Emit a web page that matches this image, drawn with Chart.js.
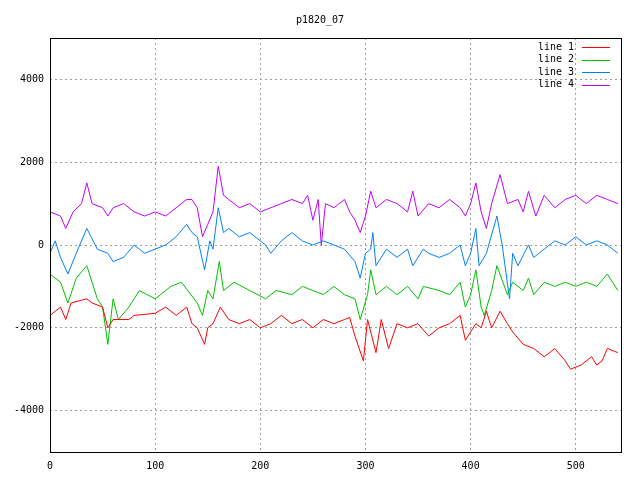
<!DOCTYPE html>
<html><head><meta charset="utf-8">
<script src="https://cdn.jsdelivr.net/npm/chart.js@4"></script>
<style>html,body{margin:0;padding:0;background:#fff}</style>
</head><body>
<canvas id="c" width="640" height="480" style="width:640px;height:480px"></canvas>
<script>
const seriesNames = ["line 1","line 2","line 3","line 4"];
const seriesColors = ["#ff0000","#00c000","#0080ff","#c000ff"];
const x1 = [0,10,15,20,35,40,50,55,60,75,80,100,110,120,130,135,140,147,150,155,162,170,180,190,200,210,220,230,240,250,260,270,280,285,290,298,302,310,315,322,330,340,350,360,370,380,390,395,400,405,410,415,420,428,435,440,450,460,470,480,490,495,505,515,520,525,530,540];
const y1 = [-1700,-1500,-1800,-1400,-1300,-1400,-1500,-2000,-1800,-1800,-1700,-1650,-1500,-1700,-1500,-1900,-2000,-2400,-2000,-1900,-1500,-1800,-1900,-1800,-2000,-1900,-1700,-1900,-1800,-2000,-1800,-1900,-1800,-1750,-2200,-2800,-1800,-2600,-1800,-2500,-1900,-2000,-1900,-2200,-2000,-1900,-1700,-2300,-2100,-1900,-2000,-1600,-2000,-1600,-1900,-2100,-2400,-2500,-2700,-2500,-2800,-3000,-2900,-2700,-2900,-2800,-2500,-2600];
const x2 = [0,10,17,25,35,45,50,55,60,65,75,85,100,115,125,140,145,150,155,161,165,175,190,205,215,230,240,250,260,270,280,290,295,302,305,310,320,330,340,350,355,370,380,390,395,400,405,410,413,420,425,435,440,450,455,460,470,480,490,500,510,520,530,540];
const y2 = [-700,-900,-1400,-800,-500,-1300,-1500,-2400,-1300,-1800,-1500,-1100,-1300,-1000,-900,-1400,-1700,-1100,-1300,-400,-1100,-900,-1100,-1300,-1100,-1200,-1000,-1100,-1200,-1000,-1200,-1300,-1800,-1200,-600,-1200,-1000,-1200,-1000,-1300,-1000,-1100,-1200,-900,-1500,-1200,-600,-1500,-1700,-1100,-500,-1200,-900,-1100,-800,-1200,-900,-1000,-900,-1000,-900,-1000,-700,-1100];
const x3 = [0,5,10,17,25,35,45,55,60,70,80,90,100,110,120,130,135,140,147,152,155,160,165,170,180,190,200,205,210,220,230,240,250,260,270,280,290,295,300,305,307,310,320,330,340,345,355,360,370,380,390,395,400,405,408,415,425,430,437,440,445,455,460,470,480,490,500,510,520,530,540];
const y3 = [-200,100,-300,-700,-200,400,-100,-200,-400,-300,0,-200,-100,0,200,500,300,200,-600,100,-100,900,300,400,200,300,100,0,-200,100,300,100,0,100,0,-100,-400,-800,-200,-100,300,-500,-100,-300,-100,-500,-100,-200,-300,-200,0,-500,-200,400,-500,-200,700,0,-1300,-200,-500,0,-300,-100,100,0,200,0,100,0,-200];
const x4 = [0,10,15,22,30,35,40,50,55,60,70,80,90,100,110,120,130,135,140,145,150,155,160,165,170,180,190,200,210,220,230,240,245,250,255,258,262,270,280,285,290,295,300,305,310,320,330,340,345,350,360,370,380,390,395,400,405,410,415,420,428,435,445,450,455,462,470,480,490,500,510,520,530,540];
const y4 = [800,700,400,800,1000,1500,1000,900,700,900,1000,800,700,800,700,900,1100,1100,900,200,500,800,1900,1200,1100,900,1000,800,900,1000,1100,1000,1200,600,1100,0,1000,900,1100,800,600,300,700,1300,900,1100,1000,800,1300,700,1000,900,1100,900,700,1000,1500,800,400,1000,1700,1000,1100,800,1300,700,1200,900,1100,1200,1000,1200,1100,1000];
const xTicks = [0,100,200,300,400,500];
const yTicks = [-4000,-2000,0,2000,4000];
const titleText = "p1820_07";

const xs=[x1,x2,x3,x4], ys=[y1,y2,y3,y4];
const datasets = seriesNames.map((n,i)=>({label:n,data:xs[i].map((x,j)=>({x:x,y:ys[i][j]})),borderColor:seriesColors[i],borderWidth:1,pointRadius:0,tension:0,fill:false}));
const FONT='10px "DejaVu Sans Mono", monospace';
const deco={id:'deco',afterDraw(ch){
  const c=ch.ctx,a=ch.chartArea;
  c.save();
  c.strokeStyle='#000';c.lineWidth=1;
  c.strokeRect(Math.round(a.left)+0.5,Math.round(a.top)+0.5,Math.round(a.right-a.left),Math.round(a.bottom-a.top));
  c.font=FONT;c.fillStyle='#000';c.textAlign='center';c.textBaseline='middle';
  c.fillText(titleText,320,20);
  c.textAlign='right';
  seriesNames.forEach((n,i)=>{const y=47+i*12.5;c.fillStyle='#000';c.fillText(n,574,y);c.strokeStyle=seriesColors[i];c.beginPath();c.moveTo(582,Math.round(y)+0.5);c.lineTo(610,Math.round(y)+0.5);c.stroke();});
  c.restore();
}};
const tf={family:'DejaVu Sans Mono',size:10};
new Chart(document.getElementById('c'),{type:'line',data:{datasets},plugins:[deco],
options:{responsive:false,animation:false,layout:{padding:{top:38,right:19,left:0,bottom:0}},
plugins:{legend:{display:false},title:{display:false},tooltip:{enabled:false}},
scales:{
 x:{type:'linear',min:0,max:543,afterBuildTicks(s){s.ticks=xTicks.map(v=>({value:v}));},afterFit(s){s.height=28;},
   grid:{color:'#a0a0a0',drawTicks:false},border:{display:false,dash:[2,3]},ticks:{color:'#000',font:tf,padding:8,maxRotation:0,callback:v=>String(v)}},
 y:{min:-5000,max:5000,afterBuildTicks(s){s.ticks=yTicks.map(v=>({value:v}));},afterFit(s){s.width=50;},
   grid:{color:'#a0a0a0',drawTicks:false},border:{display:false,dash:[2,3]},ticks:{color:'#000',font:tf,padding:6,callback:v=>String(v)}}
}}});
</script>
</body></html>
